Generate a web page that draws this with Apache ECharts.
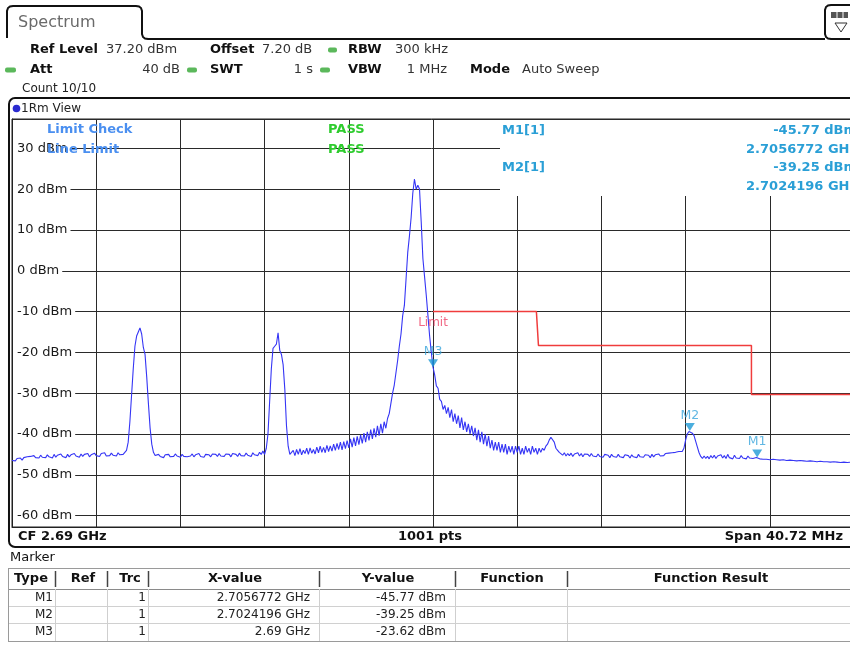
<!DOCTYPE html>
<html><head><meta charset="utf-8">
<script src="https://cdn.jsdelivr.net/npm/echarts@6/dist/echarts.min.js"></script>
<style>html,body{margin:0;padding:0;background:#fff}#c{width:850px;height:646px}</style>
</head><body><div id="c"></div>
<script>
// ---------------- data ----------------
const cfGHz = 2.69;
const spanMHz = 40.72;
const sweepPoints = 1001;
const traceStep = 2;              // one value per 2 sweep points
const refLevelDbm = 37.2;
const rangeDb = 100;

const traceLevelsDbm = [
-46.5,-46.2,-46.6,-46.0,-46.3,-45.9,-46.4,-45.8,-46.1,-45.6,
-46.0,-45.5,-45.9,-45.3,-45.8,-45.4,-45.9,-45.2,-45.7,-45.3,
-45.8,-45.1,-45.6,-45.4,-45.9,-45.0,-45.7,-45.2,-45.6,-44.9,
-45.5,-45.3,-45.8,-45.0,-45.6,-45.1,-45.5,-44.8,-45.4,-45.2,
-45.7,-44.9,-45.5,-45.0,-45.3,-44.8,-45.6,-45.1,-45.4,-44.7,
-45.3,-45.0,-45.5,-44.8,-45.2,-44.6,-45.4,-45.0,-45.3,-44.7,
-45.2,-44.9,-45.4,-44.6,-45.1,-44.8,-45.0,-44.6,-44.0,-42.0,
-37.0,-30.5,-24.0,-18.5,-16.0,-15.0,-14.0,-15.5,-18.8,-20.5,
-26.0,-32.5,-38.5,-42.5,-44.5,-45.3,-45.6,-45.0,-45.5,-45.2,
-45.8,-45.1,-45.4,-45.0,-45.6,-45.2,-45.5,-44.9,-45.4,-45.3,
-45.7,-45.0,-45.5,-45.1,-45.6,-45.2,-45.4,-44.9,-45.6,-45.1,
-45.3,-44.8,-45.5,-45.2,-45.7,-45.0,-45.4,-45.1,-45.6,-44.9,
-45.3,-45.0,-45.5,-44.8,-45.4,-45.1,-45.5,-44.9,-45.3,-45.0,
-45.6,-44.8,-45.2,-45.0,-45.5,-44.7,-45.3,-44.9,-45.4,-44.7,
-45.2,-44.8,-45.5,-44.6,-45.1,-44.8,-45.3,-44.5,-45.0,-44.2,
-45.0,-43.5,-40.0,-32.0,-24.0,-19.0,-18.5,-18.0,-15.2,-19.5,
-20.5,-23.0,-29.0,-38.0,-43.0,-45.0,-45.2,-44.0,-45.3,-43.8,
-45.0,-43.6,-45.1,-44.0,-44.8,-43.5,-45.0,-43.4,-44.7,-43.8,
-44.9,-43.2,-44.6,-43.0,-44.5,-43.3,-44.6,-42.8,-44.3,-42.9,
-44.2,-42.5,-44.0,-42.3,-43.8,-42.0,-43.9,-41.9,-43.6,-41.6,
-43.4,-41.2,-43.2,-40.9,-42.9,-40.6,-42.6,-40.2,-42.3,-39.8,
-42.0,-39.5,-41.6,-38.9,-41.2,-38.6,-40.8,-38.0,-40.4,-37.5,
-39.8,-37.0,-38.6,-36.2,-35.0,-32.5,-30.0,-28.0,-25.0,-22.0,
-18.5,-15.5,-11.0,-8.5,-2.0,4.5,8.5,13.0,19.0,22.5,
20.0,21.0,20.0,12.0,3.0,-1.5,-6.0,-11.0,-16.0,-20.0,
-23.62,-25.5,-28.2,-28.8,-31.5,-32.0,-34.0,-33.0,-35.0,-33.5,
-36.0,-34.0,-37.0,-35.0,-37.5,-35.5,-38.5,-36.0,-39.0,-37.0,
-39.5,-37.5,-40.0,-38.0,-40.5,-38.5,-41.5,-39.0,-42.0,-39.5,
-42.5,-40.0,-43.0,-40.5,-43.5,-41.5,-44.0,-42.0,-44.0,-42.0,
-44.5,-42.5,-44.5,-42.5,-45.0,-43.0,-44.5,-43.0,-45.0,-43.0,
-44.5,-43.0,-45.0,-43.5,-45.0,-43.0,-44.5,-43.5,-45.0,-43.0,
-44.5,-43.5,-45.0,-43.5,-44.5,-43.5,-44.0,-43.0,-42.5,-41.5,
-40.8,-41.0,-42.0,-43.5,-44.0,-44.5,-44.8,-45.2,-44.6,-45.4,
-44.8,-45.3,-44.7,-45.5,-44.9,-45.2,-44.6,-45.4,-44.8,-45.6,
-44.9,-45.3,-45.0,-45.5,-44.8,-45.4,-45.0,-45.6,-44.9,-45.5,
-45.1,-45.7,-45.0,-45.4,-45.2,-45.8,-45.0,-45.5,-45.1,-45.7,
-45.0,-45.6,-45.2,-45.8,-45.1,-45.5,-45.3,-45.9,-45.1,-45.6,
-45.2,-45.8,-45.0,-45.6,-45.3,-45.7,-45.1,-45.5,-45.2,-45.8,
-45.0,-45.6,-45.1,-45.5,-44.9,-45.4,-45.0,-45.3,-44.8,-45.2,
-44.7,-45.1,-44.6,-45.0,-44.5,-44.8,-44.3,-44.6,-44.3,-43.5,
-41.5,-40.0,-39.4,-39.25,-39.8,-40.4,-41.8,-43.2,-44.6,-45.5,
-46.0,-45.4,-46.0,-45.5,-46.1,-45.3,-45.9,-45.2,-46.0,-45.4,
-45.8,-45.1,-45.9,-45.3,-46.0,-45.0,-45.8,-45.4,-46.1,-45.2,
-45.9,-45.5,-46.0,-45.3,-45.9,-45.6,-46.1,-45.4,-45.9,-45.6,
-46.0,-45.7,-45.77,-45.9,-46.1,-45.8,-46.2,-45.9,-46.2,-46.0,
-46.3,-45.9,-46.2,-46.0,-46.3,-46.1,-46.4,-46.0,-46.3,-46.2,
-46.5,-46.1,-46.4,-46.2,-46.5,-46.3,-46.6,-46.2,-46.5,-46.3,
-46.6,-46.4,-46.7,-46.3,-46.6,-46.4,-46.7,-46.5,-46.8,-46.4,
-46.7,-46.5,-46.8,-46.5,-46.8,-46.6,-46.9,-46.5,-46.8,-46.6,
-46.9,-46.7,-47.0,-46.6,-46.9,-46.7,-47.0,-46.8,-46.9,-46.7,
-46.9
];

const markerNames = ['M1', 'M2', 'M3'];
const markerFreqGHz = [2.7056772, 2.7024196, 2.69];
const markerLevelsDbm = [-45.77, -39.25, -23.62];

const limitFreqGHz = [2.69, 2.6950, 2.6951, 2.7054, 2.7054, 2.71036];
const limitLevelsDbm = [-10, -10, -18.3, -18.3, -30.3, -30.3];

// ---------------- helpers ----------------
const F = '"DejaVu Sans", Verdana, sans-serif';
const toOffMHz = f => +((f - cfGHz) * 1000).toFixed(6);
const traceData = traceLevelsDbm.map((v, k) =>
  [+(((k * traceStep) / (sweepPoints - 1) - 0.5) * spanMHz).toFixed(5), v]);
const limitData = limitFreqGHz.map((f, k) => [toOffMHz(f), limitLevelsDbm[k]]);
const markerData = markerNames.map((n, k) => ({ name: n, value: [toOffMHz(markerFreqGHz[k]), markerLevelsDbm[k]] }));
const fmtF = f => parseFloat(f.toFixed(7)) + ' GHz';
const fmtL = l => l.toFixed(2) + ' dBm';

function txt(x, y, s, o) {
  o = o || {};
  return { type: 'text', x: x, y: y, z: o.z || 20, silent: true,
    style: { text: s, fill: o.c || '#111', font: (o.b ? 'bold ' : '') + (o.s || 13) + 'px ' + F,
      align: o.a || 'left', verticalAlign: 'middle' } };
}
function rect(x, y, w, h, o) {
  o = o || {};
  return { type: 'rect', z: o.z || 20, silent: true, shape: { x: x, y: y, width: w, height: h, r: o.r || 0 },
    style: { fill: o.fill || null, stroke: o.stroke || null, lineWidth: o.lw || 1 } };
}
function line(x1, y1, x2, y2, c, w, z) {
  return { type: 'line', z: z || 20, silent: true, shape: { x1: x1, y1: y1, x2: x2, y2: y2 },
    style: { stroke: c, lineWidth: w || 1 } };
}
function pl(points, c, w, z) {
  return { type: 'polyline', z: z || 20, silent: true, shape: { points: points }, style: { fill: null, stroke: c, lineWidth: w || 1 } };
}

const green = '#5bb85b';
const mkColor = '#2a9fd6';
const G = [];
// tab and header
G.push(pl([[7, 38], [7, 11], [8, 8], [10, 6.5], [13, 6], [136, 6], [139, 6.5], [141, 8], [142, 11], [142, 34], [143, 37], [145, 38.5], [148, 39], [825, 39]], '#111', 2));
G.push(pl([[858, 5], [831, 5], [828, 5.5], [826, 7], [825, 10], [825, 34], [826, 37], [828, 38.5], [831, 39], [858, 39]], '#111', 2));
G.push(rect(831, 12, 17, 6, { fill: '#555' }));
G.push(line(837, 12, 837, 18, '#fff', 1), line(843, 12, 843, 18, '#fff', 1));
G.push({ type: 'polygon', z: 20, silent: true, shape: { points: [[835, 23], [847, 23], [841, 32]] }, style: { fill: null, stroke: '#333', lineWidth: 1 } });
G.push(txt(18, 23, 'Spectrum', { s: 16, c: '#6a6a6a' }));
G.push(txt(30, 50, 'Ref Level', { b: 1 }), txt(106, 50, '37.20 dBm', { c: '#333' }));
G.push(txt(210, 50, 'Offset', { b: 1 }), txt(262, 50, '7.20 dB', { c: '#333' }));
G.push(rect(328, 47.5, 9, 5, { fill: green, r: 2 }));
G.push(txt(348, 50, 'RBW', { b: 1 }), txt(395, 50, '300 kHz', { c: '#333' }));
G.push(rect(5, 67.5, 11, 5, { fill: green, r: 2 }));
G.push(txt(30, 70, 'Att', { b: 1 }), txt(180, 70, '40 dB', { c: '#333', a: 'right' }));
G.push(rect(187, 67.5, 10, 5, { fill: green, r: 2 }));
G.push(txt(210, 70, 'SWT', { b: 1 }), txt(313, 70, '1 s', { c: '#333', a: 'right' }));
G.push(rect(320, 67.5, 10, 5, { fill: green, r: 2 }));
G.push(txt(348, 70, 'VBW', { b: 1 }), txt(447, 70, '1 MHz', { c: '#333', a: 'right' }));
G.push(txt(470, 70, 'Mode', { b: 1 }), txt(522, 70, 'Auto Sweep', { c: '#333' }));
G.push(txt(22, 89, 'Count 10/10', { s: 12, c: '#222' }));
// diagram panel
G.push(rect(9, 98, 870, 449, { stroke: '#111', lw: 2, r: 6 }));
G.push({ type: 'circle', z: 20, silent: true, shape: { cx: 16.5, cy: 108.5, r: 3.8 }, style: { fill: '#2b2bd0' } });
G.push(txt(21, 108.5, '1Rm View', { s: 12, c: '#222' }));
G.push(txt(18, 536.5, 'CF ' + cfGHz + ' GHz', { b: 1 }));
G.push(txt(430, 536.5, sweepPoints + ' pts', { b: 1, a: 'center' }));
G.push(txt(843, 536.5, 'Span ' + spanMHz.toFixed(2) + ' MHz', { b: 1, a: 'right' }));
// marker info box (covers grid)
G.push(rect(500, 120, 360, 76, { fill: '#fff', z: 1 }));
G.push(txt(47, 130, 'Limit Check', { b: 1, c: '#4a8ff0', z: 3 }));
G.push(txt(47, 150, 'Line Limit', { b: 1, c: '#4a8ff0', z: 3 }));
G.push(txt(328, 130, 'PASS', { b: 1, c: '#2ecc2e', z: 3 }));
G.push(txt(328, 150, 'PASS', { b: 1, c: '#2ecc2e', z: 3 }));
[0, 1].forEach(function (k) {
  const y0 = 131 + k * 37;
  G.push(txt(502, y0, markerNames[k] + '[1]', { b: 1, c: mkColor, z: 3 }));
  G.push(txt(857, y0, fmtL(markerLevelsDbm[k]), { b: 1, c: mkColor, a: 'right', z: 3 }));
  G.push(txt(857, y0 + 18.5, markerFreqGHz[k].toFixed(7) + ' GHz', { b: 1, c: mkColor, a: 'right', z: 3 }));
});
// marker table
G.push(txt(10, 558, 'Marker', { c: '#111' }));
const colSep = [55, 107, 148, 319, 455, 567];
const rowY = [568, 589, 606, 623, 641];
rowY.forEach(function (y, k) { G.push(line(8, y + 0.5, 850, y + 0.5, k === 0 || k === 4 ? '#9a9a9a' : (k === 1 ? '#8a8a8a' : '#d0d0d0'), 1)); });
G.push(line(8.5, 568, 8.5, 641, '#9a9a9a', 1));
colSep.forEach(function (x) {
  G.push(line(x + 0.5, 571, x + 0.5, 587, '#444', 1.5));
  G.push(line(x + 0.5, 589, x + 0.5, 641, '#cfcfcf', 1));
});
const headers = [['Type', 31], ['Ref', 83], ['Trc', 130], ['X-value', 235], ['Y-value', 388], ['Function', 512], ['Function Result', 711]];
headers.forEach(function (h) { G.push(txt(h[1], 579, h[0], { b: 1, a: 'center' })); });
markerNames.forEach(function (n, k) {
  const y = 598 + k * 17;
  G.push(txt(53, y, n, { s: 12, c: '#222', a: 'right' }));
  G.push(txt(146, y, '1', { s: 12, c: '#222', a: 'right' }));
  G.push(txt(310, y, fmtF(markerFreqGHz[k]), { s: 12, c: '#222', a: 'right' }));
  G.push(txt(446, y, fmtL(markerLevelsDbm[k]), { s: 12, c: '#222', a: 'right' }));
});

// ---------------- chart ----------------
const chart = echarts.init(document.getElementById('c'), null, { renderer: 'canvas' });
chart.setOption({
  animation: false,
  backgroundColor: '#fff',
  grid: { left: 12, right: -4, top: 119, bottom: 119, show: true, borderColor: '#222', borderWidth: 1,
    backgroundColor: 'transparent', containLabel: false, outerBoundsMode: 'none' },
  xAxis: { type: 'value', min: -spanMHz / 2, max: spanMHz / 2, interval: spanMHz / 10,
    axisLabel: { show: false }, axisTick: { show: false },
    axisLine: { show: true, onZero: false, lineStyle: { color: '#222', width: 1 } },
    splitLine: { show: true, lineStyle: { color: '#2a2a2a', width: 1 } } },
  yAxis: { type: 'value', min: +(refLevelDbm - rangeDb).toFixed(2), max: refLevelDbm, splitNumber: 10,
    axisTick: { show: false },
    axisLine: { show: true, onZero: false, lineStyle: { color: '#222', width: 1 } },
    splitLine: { show: true, lineStyle: { color: '#2a2a2a', width: 1 } },
    axisLabel: { inside: true, margin: 1, showMinLabel: false, showMaxLabel: false,
      formatter: function (v) { return (Math.abs(v % 10) < 1e-6) ? v + ' dBm' : ''; },
      color: '#1a1a1a', fontSize: 13, fontFamily: F, backgroundColor: '#fff', padding: [1, 3, 1, 4] } },
  series: [
    { type: 'line', name: 'Limit', data: limitData, symbol: 'none', z: 3,
      lineStyle: { color: '#f03c3c', width: 1.5 } },
    { type: 'line', name: 'Trace 1', data: traceData, symbol: 'none', showSymbol: false, z: 4,
      lineStyle: { color: '#3535f5', width: 1.1 } },
    { type: 'scatter', name: 'LimitLabel', data: [limitData[0]], symbolSize: 0, z: 5, silent: true,
      label: { show: true, formatter: 'Limit', position: 'bottom', distance: 5, color: '#ee4466', fontSize: 12, fontFamily: F } },
    { type: 'scatter', name: 'Markers', data: markerData, z: 6, silent: true,
      symbol: 'path://M0,0 L10,0 L5,8 Z', symbolSize: [10, 8], symbolOffset: [0, -4],
      itemStyle: { color: '#1e9ad6' },
      label: { show: true, formatter: function (p) { return p.name; }, position: 'top', distance: 1,
        color: '#3aa5dc', fontSize: 12.5, fontFamily: F } }
  ],
  graphic: { elements: G }
});
</script>
</body></html>
